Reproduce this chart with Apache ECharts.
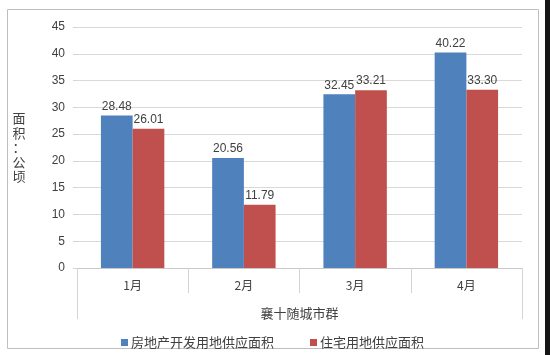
<!DOCTYPE html>
<html><head><meta charset="utf-8">
<script src="https://cdn.jsdelivr.net/npm/echarts@6/dist/echarts.min.js"></script>
<style>html,body{margin:0;padding:0;background:#fff;}#c{width:550px;height:355px;}</style>
</head><body><div id="c"></div>
<script>
const categories = ['1月', '2月', '3月', '4月'];
const groupLabel = ['襄十随城市群'];
const seriesNames = ['房地产开发用地供应面积', '住宅用地供应面积'];
const devLand = [28.48, 20.56, 32.45, 40.22];
const resLand = [26.01, 11.79, 33.21, 33.30];
const yTicks = { min: 0, max: 45, interval: 5 };

const FONT = '"Noto Sans CJK SC", "Liberation Sans", sans-serif';
const TXT = '#404040';
const chart = echarts.init(document.getElementById('c'), null, { renderer: 'canvas' });
const labelCfg = {
  show: true, position: 'top', distance: 3, color: TXT, fontSize: 12,
  fontFamily: '"Liberation Sans", sans-serif',
  formatter: p => p.value.toFixed(2)
};
chart.setOption({
  animation: false,
  backgroundColor: '#fff',
  grid: { left: 77, right: 28, top: 27, bottom: 87 },
  legend: {
    left: 116, top: 331, itemWidth: 7, itemHeight: 7, itemGap: 36,
    icon: 'rect',
    textStyle: { color: TXT, fontSize: 13, fontFamily: FONT, padding: [0, 0, 0, -2] },
    data: seriesNames
  },
  xAxis: [{
    type: 'category', data: categories, position: 'bottom',
    axisLine: { show: true, lineStyle: { color: '#c8c8c8' } },
    axisTick: { show: true, length: 25, lineStyle: { color: '#d4d4d4' } },
    axisLabel: { margin: 11, color: TXT, fontSize: 12, fontFamily: FONT }
  }, {
    type: 'category', data: groupLabel, position: 'bottom',
    axisLine: { show: false },
    axisTick: { show: true, length: 51, lineStyle: { color: '#d4d4d4' } },
    axisLabel: { margin: 39, color: TXT, fontSize: 13, fontFamily: FONT }
  }],
  yAxis: {
    type: 'value', min: yTicks.min, max: yTicks.max, interval: yTicks.interval,
    name: '面\n积\n：\n公\n顷', nameLocation: 'middle', nameRotate: 0, nameGap: 58,
    nameTextStyle: { color: TXT, fontSize: 13, lineHeight: 14.5, fontFamily: FONT, align: 'center' },
    axisLine: { show: false },
    axisTick: { show: true, length: 4, lineStyle: { color: '#d4d4d4' } },
    splitLine: { lineStyle: { color: '#d9d9d9' } },
    axisLabel: { margin: 12, color: TXT, fontSize: 12, fontFamily: '"Liberation Sans", sans-serif' }
  },
  series: [{
    name: seriesNames[0], type: 'bar', data: devLand, xAxisIndex: 0,
    barGap: '0%', barCategoryGap: '43%',
    itemStyle: { color: '#4F81BD' }, label: labelCfg
  }, {
    name: seriesNames[1], type: 'bar', data: resLand, xAxisIndex: 0,
    barGap: '0%', barCategoryGap: '43%',
    itemStyle: { color: '#C0504D' }, label: labelCfg
  }],
  graphic: [{
    type: 'rect', shape: { x: 7.5, y: 9.5, width: 531, height: 339 },
    style: { fill: 'none', stroke: '#bfbfbf', lineWidth: 1 }, z: -1
  }, {
    type: 'rect', shape: { x: 545, y: 0, width: 5, height: 355 },
    style: { fill: '#151515' }
  }]
});
</script></body></html>
